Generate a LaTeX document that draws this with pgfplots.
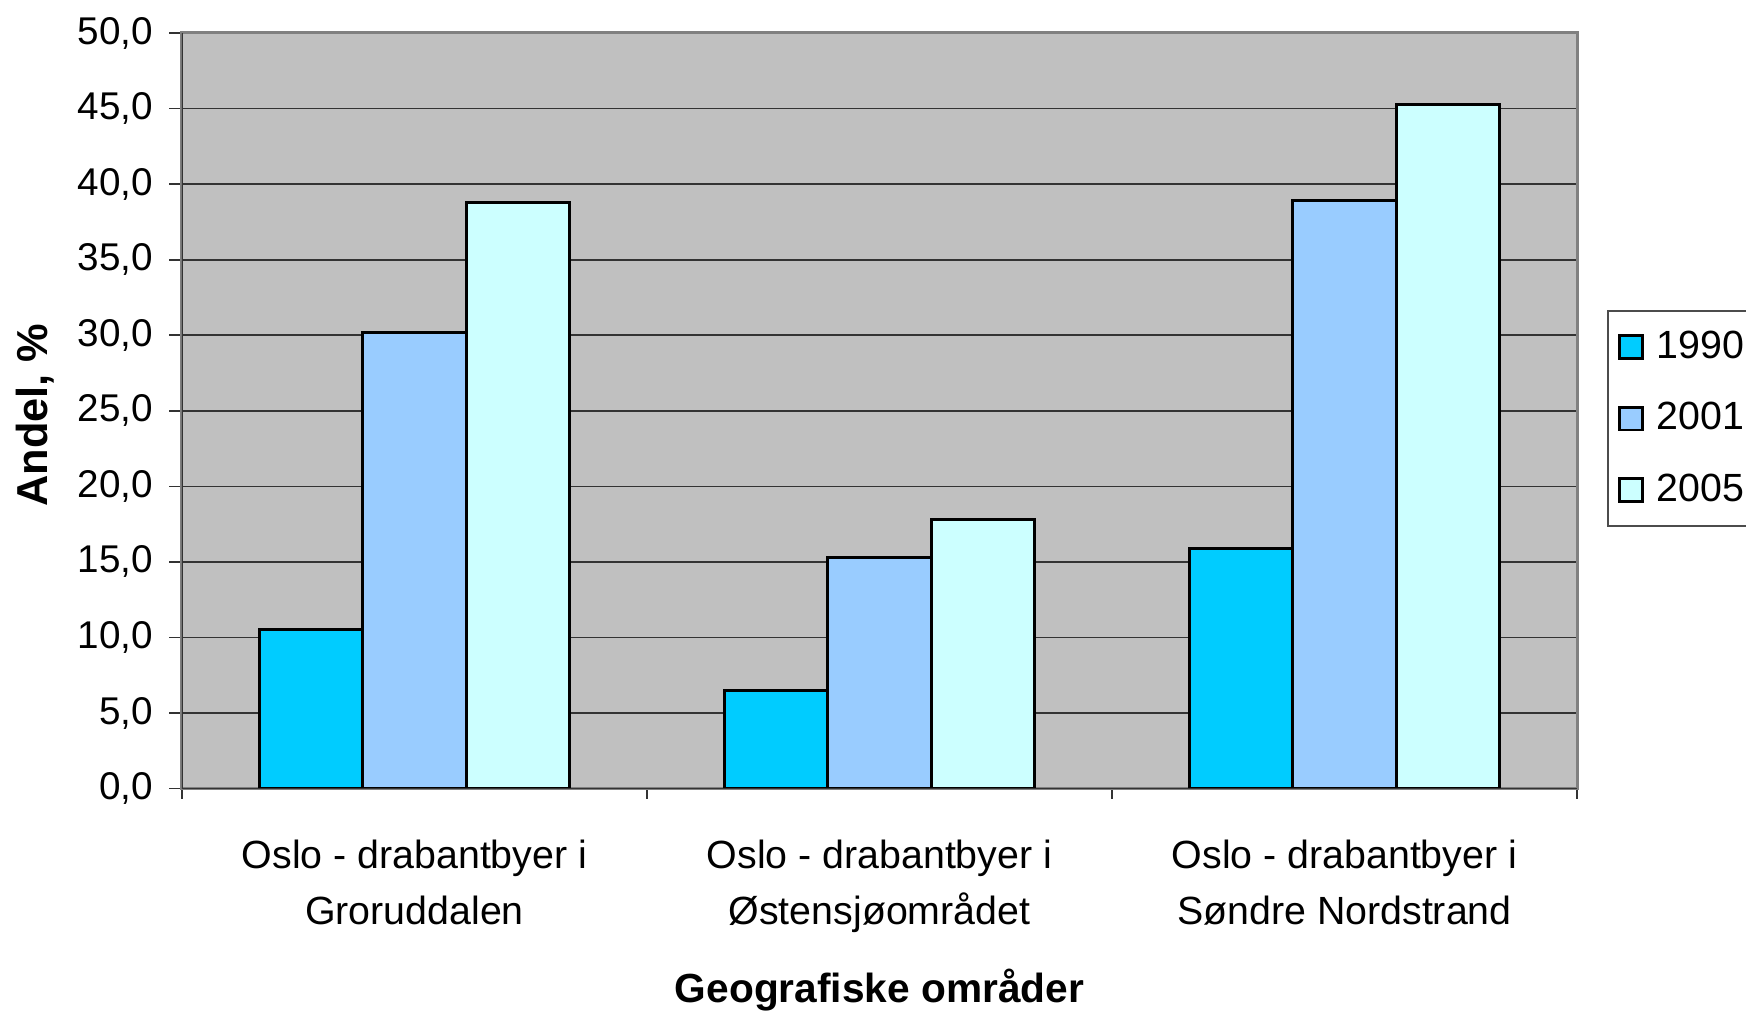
\documentclass[border=0pt]{standalone}
\usepackage{fontspec}
\setmainfont{Liberation Sans}
\usepackage{pgfplots}
\pgfplotsset{compat=1.18}
\definecolor{c1990}{HTML}{00CCFF}
\definecolor{c2001}{HTML}{99CCFF}
\definecolor{c2005}{HTML}{CCFFFF}
\definecolor{plotbg}{HTML}{C0C0C0}
\definecolor{bordergray}{HTML}{808080}
\pgfplotsset{sqlegend/.style={legend image code/.code={\draw[##1, line width=0.8pt, bar shift=0pt] (0pt,-3.4pt) rectangle (6.9pt,3.4pt);}}}
\begin{document}
\begin{tikzpicture}
\begin{axis}[
  at={(0,0)}, anchor=south west,
  scale only axis, width=418.5pt, height=226.7pt,
  xmin=-0.5, xmax=2.5, ymin=0, ymax=50,
  axis background/.style={fill=plotbg},
  axis line style={draw=bordergray, line width=0.9pt},
  ybar, bar width=0.2222,
  xtick={0,1,2},
  xticklabels={{Oslo - drabantbyer i\\Groruddalen},{Oslo - drabantbyer i\\Østensjøområdet},{Oslo - drabantbyer i\\Søndre Nordstrand}},
  xticklabel style={align=center, font=\fontsize{11.8}{17}\selectfont, yshift=-8pt},
  minor xtick={-0.5,0.5,1.5,2.5},
  major x tick style={draw=none},
  minor x tick style={draw=black!80, line width=0.4pt},
  minor tick length=3pt,
  ytick={0,5,...,50},
  major tick length=3.8pt,
  major y tick style={draw=black!80, line width=0.5pt},
  tick pos=left, tick align=outside,
  ymajorgrids, grid style={draw=black!80, line width=0.5pt},
  yticklabel style={font=\fontsize{11.6}{14}\selectfont, xshift=-1.3pt,
    /pgf/number format/.cd, fixed, fixed zerofill, precision=1, use comma, assume math mode=true},
  xlabel={\bfseries Geografiske områder},
  ylabel={\bfseries Andel, \%},
  xlabel style={font=\fontsize{12.2}{14}\selectfont, yshift=-4pt},
  ylabel style={font=\fontsize{13}{15}\selectfont, at={(axis description cs:-0.1054,0.4945)}, anchor=center},
  legend style={at={(axis description cs:1.0215,0.6334)}, anchor=north west,
    draw=black!70, line width=0.5pt, fill=white,
    font=\fontsize{11.8}{14}\selectfont, row sep=7.7pt,
    inner xsep=3pt, inner ysep=4pt},
  legend cell align=left,
]
\addplot[fill=c1990, draw=black, line width=0.9pt, bar shift=-0.2222, sqlegend]
  coordinates {(0,10.5) (1,6.5) (2,15.9)};
\addplot[fill=c2001, draw=black, line width=0.9pt, bar shift=0, sqlegend]
  coordinates {(0,30.2) (1,15.3) (2,38.9)};
\addplot[fill=c2005, draw=black, line width=0.9pt, bar shift=0.2222, sqlegend]
  coordinates {(0,38.8) (1,17.8) (2,45.3)};
\legend{\hspace{2pt}1990\hspace{12pt},\hspace{2pt}2001\hspace{12pt},\hspace{2pt}2005\hspace{12pt}}
\draw[black!80, line width=0.6pt] (rel axis cs:0,0) -- (rel axis cs:0,1);
\draw[black!80, line width=0.6pt] (rel axis cs:0,0) -- (rel axis cs:1,0);
\end{axis}
\pgfresetboundingbox
\useasboundingbox (-54.6pt,-67.4pt) rectangle (469.2pt,236.6pt);
\end{tikzpicture}
\end{document}
